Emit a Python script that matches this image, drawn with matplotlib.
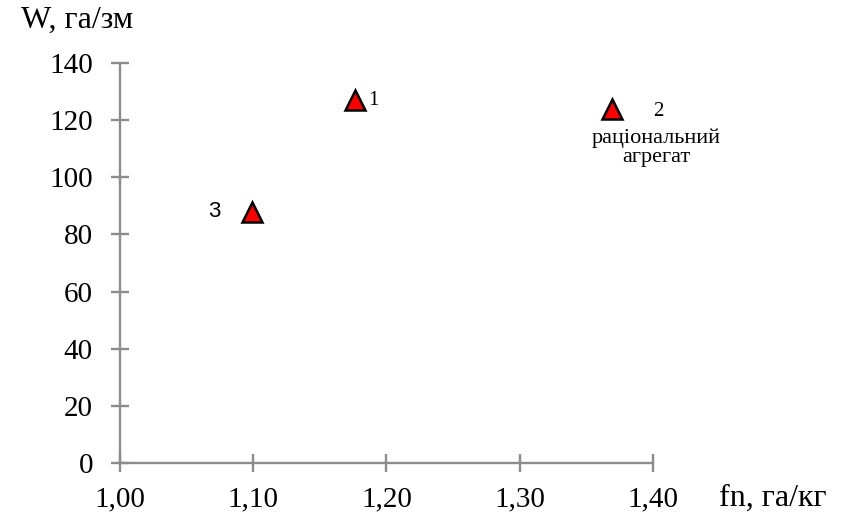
import matplotlib
matplotlib.use("Agg")
import matplotlib.pyplot as plt

# data
fn = [1.176, 1.369, 1.099]
W = [127, 124, 88]
point_labels = ["1", "2", "3"]
x_ticks = [1.00, 1.10, 1.20, 1.30, 1.40]
y_ticks = [0, 20, 40, 60, 80, 100, 120, 140]

SERIF = ["Liberation Serif", "DejaVu Serif"]
AXIS_GREY = "#8c8c8c"

fig = plt.figure(figsize=(8.5, 5.17), dpi=100)
ax = fig.add_axes([0.1412, 0.1044, 0.627, 0.7737])

ax.plot(fn, W, linestyle="none", marker="^", markersize=14,
        markerfacecolor="#ff0000", markeredgecolor="black", markeredgewidth=1.8, zorder=3)

ax.set_xlim(1.0, 1.4)
ax.set_ylim(0, 140)
ax.set_xticks(x_ticks)
ax.set_yticks(y_ticks)
ax.set_xticklabels([("%.2f" % v).replace(".", ",") for v in x_ticks], family=SERIF, fontsize=21)
ax.set_yticklabels([str(v) for v in y_ticks], family=SERIF, fontsize=21)
ax.tick_params(direction="inout", length=13, width=1.7, color=AXIS_GREY)
ax.tick_params(axis="y", pad=13)
ax.tick_params(axis="x", pad=10)

for side in ["top", "right"]:
    ax.spines[side].set_visible(False)
for side in ["left", "bottom"]:
    ax.spines[side].set_color(AXIS_GREY)
    ax.spines[side].set_linewidth(1.7)

# point labels
ax.annotate(point_labels[0], (fn[0], W[0]), xytext=(10, 0), textcoords="offset points",
            family=SERIF, fontsize=15, va="center", ha="left")
ax.annotate(point_labels[1], (fn[1], W[1]), xytext=(30, -2), textcoords="offset points",
            family=SERIF, fontsize=15, va="center", ha="left")
ax.annotate("раціональний\nагрегат", (fn[1], W[1]), xytext=(32, -14), textcoords="offset points",
            family=SERIF, fontsize=16, va="top", ha="center", linespacing=1.05)
ax.annotate(point_labels[2], (fn[2], W[2]), xytext=(-27, 0), textcoords="offset points",
            family=["Liberation Sans", "DejaVu Sans"], fontsize=16, va="center", ha="center")

# axis titles
fig.text(21 / 850, 1 - 28 / 517, "W, га/зм", family=SERIF, fontsize=23, va="baseline", ha="left")
fig.text(719 / 850, 1 - 506 / 517, "fn, га/кг", family=SERIF, fontsize=23, va="baseline", ha="left")

fig.savefig("out.png", dpi=100)
